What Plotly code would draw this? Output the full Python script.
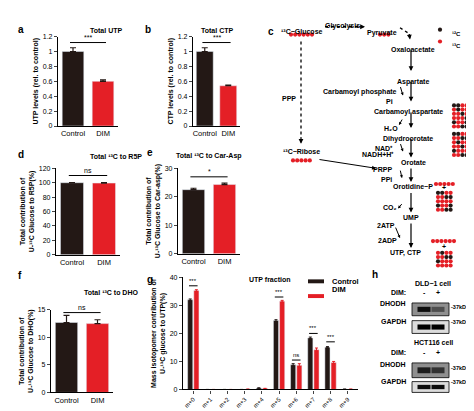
import plotly.graph_objects as go

W, H = 474, 411
BLK = "#231815"
RED = "#e41f26"
FONT = "Liberation Sans"

groups = ["Control", "DIM"]
utp = [1.0, 0.60]; utp_err = [0.05, 0.02]
ctp = [1.0, 0.54]; ctp_err = [0.05, 0.01]
r5p = [100, 99.5]; r5p_err = [0.3, 0.6]
carasp = [22.5, 24.3]; carasp_err = [0.5, 0.5]
dho = [12.7, 12.5]; dho_err = [1.3, 0.7]
iso = ["m+0", "m+1", "m+2", "m+3", "m+4", "m+5", "m+6", "m+7", "m+8", "m+9"]
iso_ctrl = [32.0, 0.0, 0.0, 0.0, 0.5, 24.6, 8.8, 18.4, 15.1, 0.1]
iso_ctrl_err = [0.3, 0, 0, 0, 0.1, 0.3, 0.4, 0.3, 0.2, 0]
iso_dim = [35.3, 0.0, 0.0, 0.1, 0.3, 31.5, 8.6, 14.2, 9.6, 0.1]
iso_dim_err = [0.3, 0, 0, 0, 0.1, 0.3, 0.6, 0.6, 0.4, 0]

def X(p): return p / W
def Y(p): return 1 - p / H

fig = go.Figure()
layout = dict(width=W, height=H, margin=dict(l=0, r=0, t=0, b=0),
              paper_bgcolor="white", plot_bgcolor="rgba(0,0,0,0)", showlegend=False,
              font=dict(family=FONT, size=7, color="black"), bargap=0.3)
ann = []; shapes = []

def axstyle(**kw):
    d = dict(showline=True, linecolor="black", linewidth=1.2, ticks="outside",
             ticklen=3, tickwidth=1, showgrid=False, zeroline=False,
             tickfont=dict(size=7, family=FONT, color="black"))
    d.update(kw); return d

panels = [
    ("", utp, utp_err, (50, 110), (25, 116), [0, 1.2], 0.2, "UTP levels (rel. to control)", "Total UTP", "***", 1.12),
    ("2", ctp, ctp_err, (185, 232), (25, 116), [0, 1.2], 0.2, "CTP levels (rel. to control)", "Total CTP", "***", 1.12),
    ("3", r5p, r5p_err, (48, 112), (159, 247), [0, 120], 20, "Total contribution of<br>U-¹³C Glucose to R5P(%)", "Total ¹³C to R5P", "ns", 110),
    ("4", carasp, carasp_err, (170, 232), (159, 246), [0, 30], 10, "Total contribution of<br>U-¹³C Glucose to Car-asp(%)", "Total ¹³C to Car-Asp", "*", 27),
    ("5", dho, dho_err, (43, 105), (303, 387), [0, 15], 5, "Total contribution of<br>U-¹³C Glucose to DHO(%)", "Total ¹³C to DHO", "ns", 14.5),
]
for sfx, vals, errs, xd, yd, yr, dt, ytitle, title, sig, sigy in panels:
    fig.add_trace(go.Bar(x=groups, y=vals, marker_color=[BLK, RED], width=0.72,
                         error_y=dict(type="data", array=errs, color=BLK, thickness=1.2, width=3, symmetric=False),
                         xaxis="x" + sfx, yaxis="y" + sfx))
    layout["xaxis" + sfx] = axstyle(domain=[X(xd[0]), X(xd[1])], anchor="y" + sfx, ticks="",
                                    tickfont=dict(size=7.5, family=FONT, color="black"))
    layout["yaxis" + sfx] = axstyle(domain=[Y(yd[1]), Y(yd[0])], anchor="x" + sfx, range=yr, dtick=dt,
                                    title=dict(text="<b>" + ytitle + "</b>", font=dict(size=7), standoff=3))
    xr = "x" + sfx; yrf = "y" + sfx
    shapes.append(dict(type="line", xref=xr, yref=yrf, x0=-0.1, x1=1.1, y0=sigy, y1=sigy, line=dict(color="black", width=1)))
    ann.append(dict(xref=xr, yref=yrf, x=0.5, y=sigy, text=sig, showarrow=False, yanchor="bottom", font=dict(size=7)))
    ann.append(dict(xref="paper", yref="paper", x=X((xd[0] + xd[1]) / 2), y=Y(yd[0] - 12), text="<b>" + title + "</b>",
                    showarrow=False, font=dict(size=7)))

# panel g
fig.add_trace(go.Bar(x=iso, y=iso_ctrl, marker_color=BLK, width=0.3, name="Control", offset=-0.33,
                     error_y=dict(array=iso_ctrl_err, color=BLK, thickness=1, width=1.5), xaxis="x6", yaxis="y6"))
fig.add_trace(go.Bar(x=iso, y=iso_dim, marker_color=RED, width=0.3, name="DIM", offset=0.03,
                     error_y=dict(array=iso_dim_err, color=RED, thickness=1, width=1.5), xaxis="x6", yaxis="y6"))
layout["xaxis6"] = axstyle(domain=[X(175), X(350)], anchor="y6", tickangle=-45, range=[-0.6, 9.6],
                           tickfont=dict(size=6, family=FONT, color="black"))
layout["yaxis6"] = axstyle(domain=[Y(384), Y(270)], anchor="x6", range=[0, 40], dtick=10,
                           title=dict(text="<b>Mass isotopomer contribution of<br>U-¹³C glucose to UTP(%)</b>", font=dict(size=7), standoff=3))
ann.append(dict(xref="paper", yref="paper", x=X(262), y=Y(272), text="<b>UTP fraction</b>", showarrow=False, font=dict(size=7)))
for i, s, yy in [(0, "***", 37), (5, "***", 33), (6, "ns", 10.5), (7, "***", 20), (8, "***", 17)]:
    shapes.append(dict(type="line", xref="x6", yref="y6", x0=i - 0.25, x1=i + 0.25, y0=yy, y1=yy, line=dict(color="black", width=1)))
    ann.append(dict(xref="x6", yref="y6", x=i, y=yy, text=s, showarrow=False, yanchor="bottom", font=dict(size=6)))
for lbl, col, py in [("Control", BLK, 274), ("DIM", RED, 289)]:
    shapes.append(dict(type="rect", xref="paper", yref="paper", x0=X(300), x1=X(316), y0=Y(py + 2), y1=Y(py - 2), fillcolor=col, line_width=0))
    ann.append(dict(xref="paper", yref="paper", x=X(322), y=Y(py), text="<b>" + lbl + "</b>", showarrow=False, xanchor="left", font=dict(size=7.5)))

# panel letters
for t, px, py in [("a", 8, 10), ("b", 135, 10), ("c", 263, 12), ("d", 8, 145), ("e", 137, 143),
                  ("f", 8, 268), ("g", 137, 272), ("h", 372, 275)]:
    ann.append(dict(xref="paper", yref="paper", x=X(px), y=Y(py), text="<b>" + t + "</b>", showarrow=False, font=dict(size=10)))

# panel c diagram
def txt(t, px, py, size=7, anchor="center"):
    ann.append(dict(xref="paper", yref="paper", x=X(px), y=Y(py), text="<b>" + t + "</b>", showarrow=False,
                    xanchor=anchor, font=dict(size=size)))
def arrow(x0, y0, x1, y1, w=1.2, hs=0.8):
    ann.append(dict(xref="paper", yref="paper", x=X(x1), y=Y(y1), ax=x0 - x1, ay=y0 - y1, axref="pixel", ayref="pixel",
                    text="", showarrow=True, arrowhead=2, arrowsize=hs, arrowwidth=w, arrowcolor="black"))
def dline(x0, y0, x1, y1):
    shapes.append(dict(type="line", xref="paper", yref="paper", x0=X(x0), y0=Y(y0), x1=X(x1), y1=Y(y1),
                       line=dict(color="black", width=1.3, dash="dot")))

txt("¹³C−Glucose", 294, 14); txt("Glycolysis", 334, 8); txt("Pyruvate", 374, 15)
dline(317, 15, 352, 15); arrow(350, 15, 357, 15)
dline(392, 16, 401, 22); arrow(401, 21, 402, 28)
txt("Oxaloacetate", 405, 33); txt("Aspartate", 405, 65)
txt("Carbamoyl phosphate", 352, 75); txt("Pi", 381, 85); txt("Carbamoyl aspartate", 400, 96)
txt("H₂O", 383, 113); txt("Dihydroorotate", 400, 123); txt("NAD⁺", 376, 133); txt("NADH+H⁺", 370, 145)
txt("Orotate", 405, 153); txt("PRPP", 374, 160); txt("PPi", 378, 170); txt("Orotidine−P", 405, 178)
txt("CO₂", 382, 199); txt("UMP", 403, 209); txt("2ATP", 378, 217); txt("2ADP", 379, 232); txt("UTP, CTP", 397, 245)
txt("PPP", 281, 82); txt("¹³C−Ribose", 293, 142)
txt("¹²C", 448, 17, 6); txt("¹³C", 448, 30, 6)
dline(293, 30, 293, 128); arrow(293, 126, 293, 134)
arrow(310, 150, 368, 159, 1)
for y0, y1 in [(38, 60), (70, 91), (101, 118), (128, 148), (158, 173), (183, 204), (214, 240)]:
    arrow(403, y0, 403, y1)
for x0, y0, x1, y1 in [(392, 75, 395, 85), (395, 108, 391, 115), (392, 133, 395, 142), (392, 160, 394, 169),
                       (395, 194, 390, 200), (387, 218, 392, 230)]:
    arrow(x0, y0, x1, y1, 1, 0.6)

dots_x, dots_y, dots_c = [], [], []
def row(px, py, pattern, step=4.2):
    for k, ch in enumerate(pattern):
        dots_x.append(X(px + k * step)); dots_y.append(Y(py)); dots_c.append(RED if ch == "r" else BLK)
row(283, 23, "rrrrrr"); row(372, 23, "rrr"); row(285, 151, "rrrrr")
row(432, 18, "k"); row(432, 30, "r")
for i, p in enumerate(["kkrr", "rkrr", "rrkr", "rrrk", "krrk", "rrkk"]):
    row(446, 95 + i * 4.3, p)
for i, p in enumerate(["kkrr", "rrkk", "rkrr", "rrkr", "krrr", "rrkk"]):
    row(446, 124 + i * 4.3, p)
row(428, 175, "rrrrr")
for i, p in enumerate(["kkrr", "rrkk", "rrrr", "krrk", "rrkk"]):
    row(430, 184 + i * 4.3, p)
row(425, 233, "rrrrrr")
for i, p in enumerate(["rkrr", "rrkk", "krrr", "rrrr"]):
    row(430, 245 + i * 4.3, p)
txt("+", 436, 179, 7); txt("+", 436, 239, 7)
fig.add_trace(go.Scatter(x=dots_x, y=dots_y, mode="markers", marker=dict(color=dots_c, size=4.2),
                         xaxis="x7", yaxis="y7", hoverinfo="skip"))
layout["xaxis7"] = dict(domain=[0, 1], range=[0, 1], visible=False, anchor="y7")
layout["yaxis7"] = dict(domain=[0, 1], range=[0, 1], visible=False, anchor="x7")

# panel h blots
for title, ty, dy in [("DLD−1 cell", 282, 291), ("HCT116 cell", 342, 352)]:
    txt(title, 425, ty, 7)
    txt("DIM:", 400, dy, 7, "right"); txt("-", 416, dy, 7); txt("+", 430, dy, 7)
blots = [("DHODH", 296, 309, 0.9, 0.45), ("GAPDH", 314, 327, 1.0, 1.0), ("DHODH", 357, 372, 0.8, 0.65), ("GAPDH", 376, 387, 0.95, 0.95)]
for name, y0, y1, a1, a2 in blots:
    m = (y0 + y1) / 2
    txt(name, 400, m, 7, "right")
    shapes.append(dict(type="rect", xref="paper", yref="paper", x0=X(404), x1=X(441), y0=Y(y1), y1=Y(y0),
                       fillcolor="#dcdcdc" if name == "GAPDH" else "#8f8f8f", line=dict(color="black", width=0.8)))
    bh = (y1 - y0) * 0.2
    for cx, a in [(416, a1), (430, a2)]:
        shapes.append(dict(type="rect", xref="paper", yref="paper", x0=X(cx - 6.5), x1=X(cx + 6.5), y0=Y(m + bh), y1=Y(m - bh),
                           fillcolor="black", opacity=a, line_width=0))
    txt("-37kDa", 441, m + (3 if name == "DHODH" else 0), 5.5, "left")

layout["annotations"] = ann; layout["shapes"] = shapes
fig.update_layout(**layout)
fig.write_html("out.html")
